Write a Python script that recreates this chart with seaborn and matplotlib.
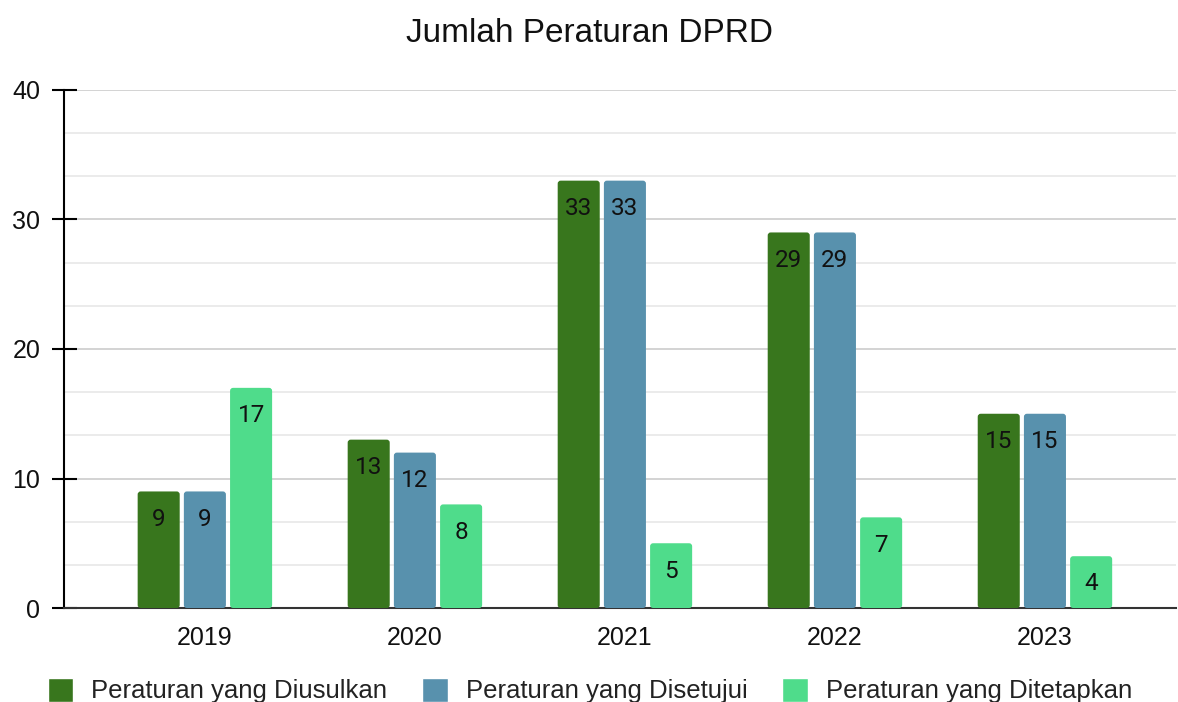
import matplotlib.pyplot as plt
import matplotlib.ticker as mticker
from matplotlib.patches import FancyBboxPatch
import seaborn as sns
import pandas as pd

years = ['2019', '2020', '2021', '2022', '2023']
diusulkan = [9, 13, 33, 29, 15]
disetujui = [9, 12, 33, 29, 15]
ditetapkan = [17, 8, 5, 7, 4]
series_names = ['Peraturan yang Diusulkan', 'Peraturan yang Disetujui', 'Peraturan yang Ditetapkan']
colors = ['#38761d', '#5891ad', '#4fdc8b']

df = pd.DataFrame({
    'Tahun': years * 3,
    'Jumlah': diusulkan + disetujui + ditetapkan,
    'Jenis': [s for s in series_names for _ in years],
})

sns.set_style('white')
plt.rcParams['font.family'] = ['Liberation Sans', 'DejaVu Sans']

fig = plt.figure(figsize=(11.78, 7.02), dpi=100)
ax = fig.add_axes([0.0543, 0.1339, 0.944, 0.7379])

sns.barplot(data=df, x='Tahun', y='Jumlah', hue='Jenis', palette=colors,
            saturation=1, width=0.66, gap=0.09, ax=ax, legend=True)

ax.set_xlim(-0.671, 4.624)
ax.set_ylim(0, 40)

# rounded tops on bars
xpx = 1 / 210.0
ypx = 40 / 518.0
for container in ax.containers:
    for bar in container:
        x, y = bar.get_x(), bar.get_y()
        w, h = bar.get_width(), bar.get_height()
        fc = bar.get_facecolor()
        bar.set_visible(False)
        rb = FancyBboxPatch((x, y), w, h,
                            boxstyle=f'round,pad=0,rounding_size={3 * xpx}',
                            mutation_aspect=ypx / xpx, facecolor=fc,
                            edgecolor='none', zorder=3)
        ax.add_patch(rb)
        ax.annotate(f'{int(h)}', (x + w / 2, y + h), xytext=(0, -20),
                    textcoords='offset points', ha='center', va='center',
                    fontsize=17.5, color='#111111', zorder=4,
                    family=['Roboto', 'DejaVu Sans'])

ax.yaxis.set_major_locator(mticker.MultipleLocator(10))
ax.yaxis.set_minor_locator(mticker.MultipleLocator(10 / 3))
ax.grid(True, which='major', axis='y', color='#cccccc', linewidth=1.2, zorder=0)
ax.grid(True, which='minor', axis='y', color='#e8e8e8', linewidth=1.2, zorder=0)
ax.set_axisbelow(True)

for s in ['top', 'right']:
    ax.spines[s].set_visible(False)
ax.spines['left'].set_color('#000000')
ax.spines['left'].set_linewidth(1.5)
ax.spines['bottom'].set_color('#333333')
ax.spines['bottom'].set_linewidth(1.5)

ax.tick_params(axis='y', which='major', direction='inout', length=18, width=1.5,
               color='#000000', labelsize=18, pad=8, left=True)
ax.tick_params(axis='y', which='minor', length=0)
ax.tick_params(axis='x', length=0, labelsize=18, pad=13)
for lbl in ax.get_yticklabels() + ax.get_xticklabels():
    lbl.set_color('#111111')

ax.set_xlabel('')
ax.set_ylabel('')
fig.suptitle('Jumlah Peraturan DPRD', fontsize=24, y=0.975, color='#111111')

handles, labels = ax.get_legend_handles_labels()
ax.legend(handles, labels, loc='upper center', bbox_to_anchor=(0.473, -0.09),
          ncol=3, frameon=False, fontsize=18.5, handlelength=1.0, handleheight=1.05,
          handletextpad=0.7, columnspacing=1.35, labelcolor='#222222')

fig.savefig('out.png', dpi=100)
